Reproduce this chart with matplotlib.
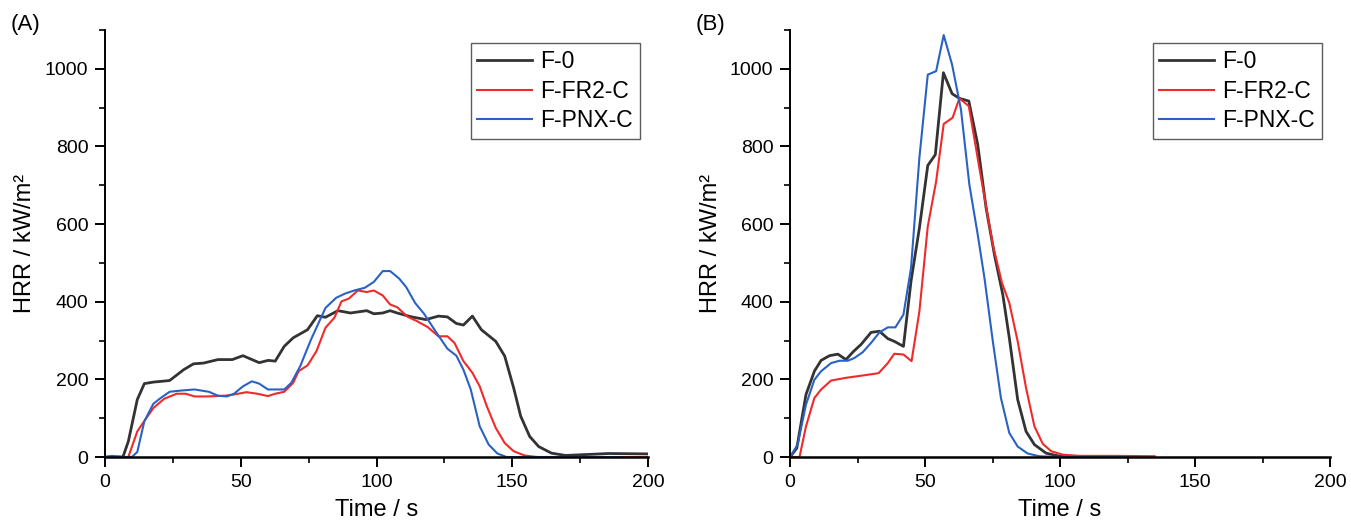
import matplotlib.pyplot as plt
from matplotlib.ticker import MultipleLocator

plt.rcParams['font.family'] = ['Liberation Sans', 'DejaVu Sans']

# Panel (A)
a_t0 = [0, 6.6, 8.6, 11.9, 14.5, 17.8, 23.8, 29, 32.6, 36.3, 41.6, 46.9, 50.8, 56.8, 60.1,
        62.7, 66, 69.3, 74.6, 78.2, 81.2, 85.8, 90.4, 96.4, 99, 102.3, 105, 107.6, 112.9,
        118.2, 122.8, 126.1, 129.4, 132, 135.3, 138.6, 143.9, 147.2, 150.5, 153.1, 156.4,
        159.7, 164.4, 169.6, 176, 185.5, 200]
a_f0 = [0, 0, 40, 148, 189, 193, 197, 225, 240, 242, 251, 251, 261, 243, 249,
        247, 285, 307, 328, 364, 360, 377, 371, 377, 369, 371, 377, 371, 361,
        354, 363, 361, 344, 340, 363, 328, 298, 260, 178, 105, 53,
        27, 10, 4, 6, 9, 8]

a_t1 = [0, 8.6, 11.9, 15.2, 17.8, 21.8, 26.4, 29.7, 33, 37.6, 44.2, 47.5, 52.1, 56.1, 60,
        62.7, 66, 69.3, 71.3, 74.6, 77.9, 81.2, 84.5, 87.1, 89.8, 93.1, 96.4, 99, 102.3,
        105, 107.6, 111.5, 114.9, 118.8, 122.8, 126.1, 128.7, 132, 135.3, 138, 140.6,
        143.9, 147.2, 150.5, 154.5, 159, 200]
a_fr2 = [0, 0, 66, 100, 126, 150, 163, 163, 156, 156, 158, 161, 167, 163, 157,
         163, 168, 191, 221, 236, 273, 333, 359, 401, 408, 429, 425, 429, 416,
         393, 386, 361, 350, 335, 311, 311, 294, 247, 217, 182, 131,
         75, 36, 15, 4, 0, 0]

a_t2 = [0, 2.6, 6.6, 9.9, 11.9, 14.5, 17.8, 20.5, 23.8, 27.7, 33, 38.3, 41.6, 44.9, 47.5,
        50.8, 54.1, 56.8, 60, 66, 68.6, 71.9, 75.9, 81.2, 85.1, 88.4, 91.8, 95.7, 99,
        102.3, 105, 108.3, 110.9, 114.2, 117.5, 122.1, 126.1, 129.4, 132, 134.7, 138,
        141.3, 144.5, 147.9, 190]
a_pnx = [0, 3, 0, 0, 13, 92, 137, 152, 168, 171, 174, 168, 158, 156, 163,
         182, 195, 189, 174, 174, 191, 234, 303, 384, 410, 421, 429, 436, 451,
         479, 479, 460, 438, 397, 369, 320, 279, 261, 225, 174, 79,
         32, 9, 0, 0]

# Panel (B)
b_t0 = [0, 2.5, 5.9, 9, 11.5, 14.6, 17.7, 20.7, 23.5, 26.3, 30, 33.1, 36.2, 38.6, 42,
        44.8, 47.9, 51, 53.8, 56.8, 60, 62.7, 66.2, 69.5, 72.6, 75.7, 78.8, 81.2, 84.3,
        87.4, 90.5, 94.8, 99.8, 107, 125]
b_f0 = [0, 23, 161, 221, 249, 261, 265, 251, 272, 290, 321, 324, 305, 298, 285,
        453, 590, 751, 779, 990, 936, 924, 917, 805, 642, 521, 418, 307, 148,
        66, 32, 10, 2, 0, 0]

b_t1 = [0, 3.5, 5.9, 9, 11.5, 15.2, 20.7, 26.9, 32.8, 36.2, 38.6, 42, 45, 47.9, 51,
        54.1, 56.9, 60.2, 62.7, 66.2, 70.1, 75.1, 78.5, 81.2, 84.3, 87.4, 90.5, 93.6,
        96.7, 101, 107.2, 120, 135]
b_fr2 = [0, 0, 79, 152, 174, 197, 204, 210, 216, 242, 266, 264, 247, 375, 594,
         710, 858, 874, 924, 904, 745, 547, 448, 397, 298, 178, 79, 34,
         15, 6, 3, 3, 2]

b_t2 = [0, 2.8, 5.9, 9, 11.5, 15.2, 18.3, 21.4, 23.8, 26.9, 30, 33.1, 36.2, 39, 42,
        44.8, 47.9, 51, 54.1, 56.9, 60, 63.3, 66.4, 69.5, 72, 75.1, 78.1, 81.2, 84.3,
        88, 92.3, 99.8, 125]
b_pnx = [0, 32, 135, 199, 221, 242, 248, 248, 255, 270, 294, 321, 334, 334, 367,
         487, 771, 985, 994, 1087, 1011, 895, 702, 573, 461, 298, 152, 62, 27,
         9, 2, 0, 0]

names = ['F-0', 'F-FR2-C', 'F-PNX-C']
colors = ['#333333', '#f02a2a', '#2a62c4']
widths = [2.0, 1.5, 1.5]

fig = plt.figure(figsize=(13.51, 5.22), dpi=100)
ax1 = fig.add_axes([0.0777, 0.1245, 0.402, 0.818])
ax2 = fig.add_axes([0.5848, 0.1245, 0.3997, 0.818])

panels = [(ax1, '(A)', [(a_t0, a_f0), (a_t1, a_fr2), (a_t2, a_pnx)]),
          (ax2, '(B)', [(b_t0, b_f0), (b_t1, b_fr2), (b_t2, b_pnx)])]

for ax, tag, series in panels:
    for (t, v), name, c, w in zip(series, names, colors, widths):
        ax.plot(t, v, color=c, lw=w, label=name)
    ax.set_xlim(0, 200)
    ax.set_ylim(0, 1100)
    ax.spines['top'].set_visible(False)
    ax.spines['right'].set_visible(False)
    ax.spines['left'].set_linewidth(1.4)
    ax.spines['bottom'].set_linewidth(1.8)
    ax.xaxis.set_major_locator(MultipleLocator(50))
    ax.xaxis.set_minor_locator(MultipleLocator(25))
    ax.yaxis.set_minor_locator(MultipleLocator(100))
    ax.set_yticks([0, 200, 400, 600, 800, 1000])
    ax.tick_params(which='major', direction='out', length=7, width=1.4, labelsize=14, pad=5)
    ax.tick_params(which='minor', direction='out', length=4.5, width=1.2)
    ax.set_xlabel('Time / s', fontsize=17, labelpad=6)
    ax.set_ylabel('HRR / kW/m²', fontsize=17, labelpad=6)
    leg = ax.legend(loc='upper right', fontsize=16.5, frameon=True, fancybox=False,
                    edgecolor='#333333', handlelength=2.4, handletextpad=0.35,
                    borderpad=0.3, borderaxespad=0.0, labelspacing=0.3,
                    bbox_to_anchor=(0.985, 0.97))
    leg.get_frame().set_linewidth(1.0)
    fig.text(ax.get_position().x0 - 0.07, 0.954, tag, fontsize=16, va='center')

fig.savefig('out.png', dpi=100)
